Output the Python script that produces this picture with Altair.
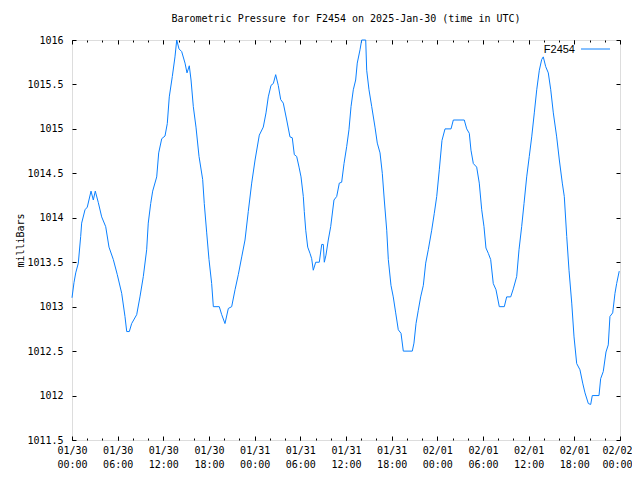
import altair as alt
import pandas as pd

# hours after 2025-01-30 00:00 UTC
hours = [0.0, 0.26, 0.49, 0.83, 1.14, 1.27, 1.71, 2.01, 2.50, 2.80, 3.06, 3.46, 3.90, 4.43, 4.86,
         5.43, 5.95, 6.53, 6.96, 7.19, 7.53, 7.84, 8.50, 8.93, 9.37, 9.81, 10.02, 10.34, 10.60,
         11.13, 11.39, 11.79, 12.22, 12.52, 12.78, 13.18, 13.53, 13.76, 14.06, 14.41, 14.85,
         15.11, 15.41, 15.64, 15.94, 16.29, 16.69, 17.17, 17.38, 17.70, 18.00, 18.35, 18.57,
         19.35, 19.67, 20.10, 20.54, 20.98, 21.42, 21.85, 22.30, 22.73, 23.16, 23.61, 24.05,
         24.61, 25.13, 25.49, 25.79, 26.15, 26.45, 26.76, 27.10, 27.42, 27.76, 28.21, 28.64,
         28.94, 29.21, 29.52, 29.83, 30.09, 30.39, 30.52, 30.71, 30.97, 31.27, 31.49, 31.70,
         32.02, 32.49, 32.81, 33.02, 33.15, 33.37, 33.67, 33.99, 34.42, 34.78, 35.12, 35.43,
         35.74, 36.09, 36.39, 36.66, 36.96, 37.27, 37.48, 37.84, 38.06, 38.59, 38.72, 39.02,
         39.38, 39.81, 40.11, 40.47, 40.77, 41.03, 41.35, 41.56, 41.91, 42.21, 42.53, 42.87,
         43.23, 43.53, 44.71, 44.93, 45.20, 45.50, 45.81, 46.16, 46.47, 46.81, 47.26, 47.60,
         47.92, 48.26, 48.61, 49.01, 49.80, 50.10, 51.54, 51.86, 52.20, 52.42, 52.73, 53.17,
         53.51, 53.83, 54.13, 54.39, 54.70, 55.01, 55.35, 55.71, 56.14, 56.80, 57.11, 57.64,
         57.98, 58.43, 58.73, 59.08, 59.39, 59.74, 60.08, 60.40, 60.74, 61.06, 61.40, 61.71,
         61.92, 62.24, 62.58, 62.90, 63.24, 63.68, 64.03, 64.42, 64.68, 65.00, 65.30, 65.66,
         65.96, 66.31, 66.74, 67.10, 67.40, 67.84, 68.15, 68.36, 69.24, 69.46, 69.80, 70.16,
         70.46, 70.68, 71.04, 71.34, 71.56, 71.90]

pressure = [1013.10, 1013.27, 1013.38, 1013.49, 1013.79, 1013.94, 1014.09, 1014.12, 1014.30,
            1014.20, 1014.30, 1014.17, 1014.01, 1013.90, 1013.67, 1013.53, 1013.36, 1013.15,
            1012.89, 1012.72, 1012.72, 1012.81, 1012.91, 1013.11, 1013.34, 1013.64, 1013.94,
            1014.16, 1014.30, 1014.46, 1014.73, 1014.89, 1014.92, 1015.06, 1015.36, 1015.59,
            1015.81, 1016.00, 1015.90, 1015.87, 1015.74, 1015.63, 1015.71, 1015.55, 1015.25,
            1015.02, 1014.69, 1014.43, 1014.16, 1013.83, 1013.53, 1013.26, 1013.00, 1013.00,
            1012.91, 1012.81, 1012.98, 1013.00, 1013.19, 1013.36, 1013.56, 1013.75, 1014.07,
            1014.39, 1014.65, 1014.93, 1015.02, 1015.18, 1015.36, 1015.49, 1015.51, 1015.61,
            1015.49, 1015.33, 1015.29, 1015.10, 1014.91, 1014.90, 1014.71, 1014.69, 1014.57,
            1014.46, 1014.24, 1014.07, 1013.86, 1013.67, 1013.60, 1013.54, 1013.41, 1013.50,
            1013.50, 1013.70, 1013.70, 1013.50, 1013.58, 1013.75, 1013.90, 1014.20, 1014.24,
            1014.39, 1014.40, 1014.61, 1014.80, 1014.99, 1015.25, 1015.44, 1015.55, 1015.74,
            1015.89, 1016.00, 1016.00, 1015.66, 1015.44, 1015.25, 1015.02, 1014.84, 1014.73,
            1014.50, 1014.20, 1013.86, 1013.53, 1013.24, 1013.11, 1012.93, 1012.74, 1012.70,
            1012.50, 1012.50, 1012.59, 1012.81, 1012.96, 1013.11, 1013.24, 1013.49, 1013.64,
            1013.86, 1014.05, 1014.24, 1014.54, 1014.87, 1015.00, 1015.00, 1015.10, 1015.10,
            1015.00, 1014.95, 1014.76, 1014.61, 1014.57, 1014.39, 1014.09, 1013.90, 1013.66,
            1013.60, 1013.53, 1013.26, 1013.19, 1013.00, 1013.00, 1013.11, 1013.11, 1013.20,
            1013.34, 1013.64, 1013.90, 1014.16, 1014.46, 1014.69, 1014.91, 1015.18, 1015.44,
            1015.66, 1015.78, 1015.81, 1015.70, 1015.63, 1015.44, 1015.18, 1014.91, 1014.65,
            1014.39, 1014.24, 1013.79, 1013.41, 1013.04, 1012.66, 1012.36, 1012.29, 1012.14,
            1012.03, 1011.91, 1011.90, 1012.00, 1012.00, 1012.19, 1012.27, 1012.49, 1012.57,
            1012.89, 1012.93, 1013.15, 1013.26, 1013.40]

major_tick_hours = [0, 6, 12, 18, 24, 30, 36, 42, 48, 54, 60, 66, 72]
minor_tick_hours = list(range(0, 73, 2))
y_ticks = [1011.5, 1012, 1012.5, 1013, 1013.5, 1014, 1014.5, 1015, 1015.5, 1016]

station = "F2454"
title_text = "Barometric Pressure for F2454 on 2025-Jan-30 (time in UTC)"

base_time = pd.Timestamp("2025-01-30T00:00:00Z")
times = [base_time + pd.Timedelta(hours=h) for h in hours]
df = pd.DataFrame({
    "t": [t.strftime("%Y-%m-%dT%H:%M:%SZ") for t in times],
    "p": pressure,
})

def ms(h):
    return int((base_time + pd.Timedelta(hours=h)).timestamp() * 1000)

major_vals = [ms(h) for h in major_tick_hours]
minor_vals = [ms(h) for h in minor_tick_hours]
last_ms = major_vals[-1]

MONO = "DejaVu Sans Mono"
COLOR = "#0a80ff"

xscale = alt.Scale(type="utc", domain=[ms(0), ms(72)], nice=False)
yscale = alt.Scale(domain=[1011.5, 1016], nice=False, zero=False)

MAJ = 4
MIN = 2

common_axis = dict(domain=False, grid=False, tickColor="black", tickWidth=1)

x_bottom_major = alt.Axis(
    orient="bottom", values=major_vals, tickSize=MAJ, offset=-MAJ,
    labelExpr="[utcFormat(datum.value, '%m/%d'), utcFormat(datum.value, '%H:%M')]",
    labelFont=MONO, labelFontSize=10, labelColor="black", labelPadding=5,
    labelLineHeight=14, labelFlush=False, labelOverlap=False, title=None,
    labelOffset={"condition": {"test": f"+datum.value >= {last_ms}", "value": -3}, "value": 0},
    **common_axis)
x_bottom_minor = alt.Axis(orient="bottom", values=minor_vals, tickSize=MIN, offset=-MIN,
                          labels=False, title=None, **common_axis)
x_top_major = alt.Axis(orient="top", values=major_vals, tickSize=MAJ, offset=-MAJ,
                       labels=False, title=None, **common_axis)
x_top_minor = alt.Axis(orient="top", values=minor_vals, tickSize=MIN, offset=-MIN,
                       labels=False, title=None, **common_axis)

y_left = alt.Axis(orient="left", values=y_ticks, tickSize=MAJ, offset=-MAJ,
                  labelFont=MONO, labelFontSize=10, labelColor="black", labelPadding=9,
                  labelFlush=False, labelOverlap=False, format="~g",
                  title="milliBars", titleFont=MONO, titleFontSize=10, titleFontWeight="normal",
                  titleColor="black", titlePadding=1, **common_axis)
y_right = alt.Axis(orient="right", values=y_ticks, tickSize=MAJ, offset=-MAJ,
                   labels=False, title=None, **common_axis)

line = alt.Chart(df).mark_line(color=COLOR, strokeWidth=1, interpolate="linear").encode(
    x=alt.X("t:T", scale=xscale, axis=x_bottom_major),
    y=alt.Y("p:Q", scale=yscale, axis=y_left),
)
ghost2 = alt.Chart(df).mark_line(opacity=0).encode(
    x=alt.X("t:T", scale=xscale, axis=x_bottom_minor),
    y=alt.Y("p:Q", scale=yscale, axis=y_right),
)
ghost3 = alt.Chart(df).mark_line(opacity=0).encode(
    x=alt.X("t:T", scale=xscale, axis=x_top_major),
    y=alt.Y("p:Q", scale=yscale, axis=None),
)
ghost4 = alt.Chart(df).mark_line(opacity=0).encode(
    x=alt.X("t:T", scale=xscale, axis=x_top_minor),
    y=alt.Y("p:Q", scale=yscale, axis=None),
)

legend_df = pd.DataFrame({"label": [station]})
legend_text = alt.Chart(legend_df).mark_text(
    align="right", baseline="middle", font="Liberation Sans", fontSize=11, color="black"
).encode(text="label:N", x=alt.value(503), y=alt.value(10))
legend_line = alt.Chart(legend_df).mark_rule(color=COLOR, strokeWidth=1).encode(
    x=alt.value(509), x2=alt.value(538), y=alt.value(9)
)

chart = alt.layer(line, ghost2, ghost3, ghost4, legend_text, legend_line).resolve_axis(
    x="independent", y="independent"
).properties(
    width=548, height=400,
    title=alt.TitleParams(title_text, font=MONO, fontSize=10, fontWeight="normal",
                          color="black", anchor="middle", offset=11),
    autosize=alt.AutoSizeParams(type="none"),
    padding={"left": 64, "top": 32, "right": 12, "bottom": 32},
).configure_view(stroke="black", strokeWidth=1).configure(background="white")

chart.save("out.html", embed_options={"renderer": "svg", "actions": False})
